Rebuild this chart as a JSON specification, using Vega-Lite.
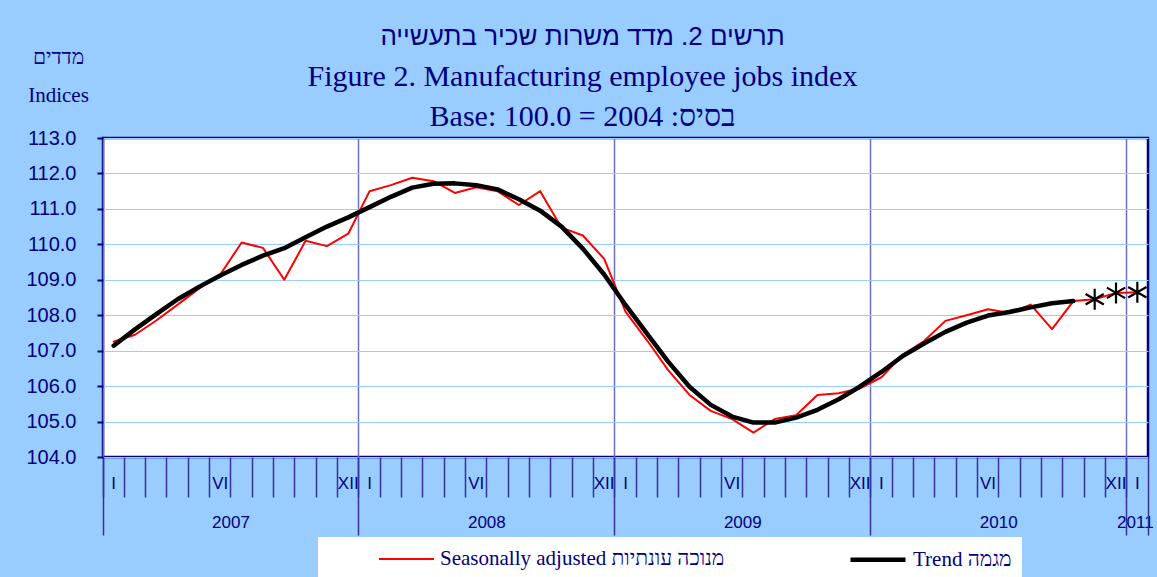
{
  "$schema": "https://vega.github.io/schema/vega-lite/v6.json",
  "width": 1045,
  "height": 319,
  "autosize": {"type": "none"},
  "padding": {"left": 103, "top": 138, "right": 9, "bottom": 120},
  "background": "#99CCFF",
  "title": {
    "text": "תרשים 2. מדד משרות שכיר בתעשייה",
    "subtitle": ["Figure 2. Manufacturing employee jobs index", "Base: 100.0 = 2004 :בסיס"],
    "anchor": "middle",
    "frame": "group",
    "dx": -43,
    "font": "Liberation Sans",
    "fontSize": 26,
    "fontWeight": "normal",
    "color": "#000080",
    "subtitleFont": "Liberation Serif",
    "subtitleFontSize": 30,
    "subtitleColor": "#000080",
    "subtitleLineHeight": 40,
    "subtitlePadding": 12,
    "offset": -86
  },
  "data": {
    "values": [
      {"m": "2007-01", "s": "SA", "v": 107.25},
      {"m": "2007-02", "s": "SA", "v": 107.45},
      {"m": "2007-03", "s": "SA", "v": 107.85},
      {"m": "2007-04", "s": "SA", "v": 108.3},
      {"m": "2007-05", "s": "SA", "v": 108.75},
      {"m": "2007-06", "s": "SA", "v": 109.15},
      {"m": "2007-07", "s": "SA", "v": 110.05},
      {"m": "2007-08", "s": "SA", "v": 109.9},
      {"m": "2007-09", "s": "SA", "v": 109.0},
      {"m": "2007-10", "s": "SA", "v": 110.1},
      {"m": "2007-11", "s": "SA", "v": 109.95},
      {"m": "2007-12", "s": "SA", "v": 110.3},
      {"m": "2008-01", "s": "SA", "v": 111.5},
      {"m": "2008-02", "s": "SA", "v": 111.67},
      {"m": "2008-03", "s": "SA", "v": 111.88},
      {"m": "2008-04", "s": "SA", "v": 111.78},
      {"m": "2008-05", "s": "SA", "v": 111.45},
      {"m": "2008-06", "s": "SA", "v": 111.61},
      {"m": "2008-07", "s": "SA", "v": 111.5},
      {"m": "2008-08", "s": "SA", "v": 111.11},
      {"m": "2008-09", "s": "SA", "v": 111.5},
      {"m": "2008-10", "s": "SA", "v": 110.47},
      {"m": "2008-11", "s": "SA", "v": 110.25},
      {"m": "2008-12", "s": "SA", "v": 109.59},
      {"m": "2009-01", "s": "SA", "v": 108.1},
      {"m": "2009-02", "s": "SA", "v": 107.3},
      {"m": "2009-03", "s": "SA", "v": 106.45},
      {"m": "2009-04", "s": "SA", "v": 105.75},
      {"m": "2009-05", "s": "SA", "v": 105.3},
      {"m": "2009-06", "s": "SA", "v": 105.07},
      {"m": "2009-07", "s": "SA", "v": 104.69},
      {"m": "2009-08", "s": "SA", "v": 105.07},
      {"m": "2009-09", "s": "SA", "v": 105.18},
      {"m": "2009-10", "s": "SA", "v": 105.75},
      {"m": "2009-11", "s": "SA", "v": 105.8},
      {"m": "2009-12", "s": "SA", "v": 105.94},
      {"m": "2010-01", "s": "SA", "v": 106.25},
      {"m": "2010-02", "s": "SA", "v": 106.88},
      {"m": "2010-03", "s": "SA", "v": 107.27},
      {"m": "2010-04", "s": "SA", "v": 107.84},
      {"m": "2010-05", "s": "SA", "v": 108.0},
      {"m": "2010-06", "s": "SA", "v": 108.17},
      {"m": "2010-07", "s": "SA", "v": 108.06},
      {"m": "2010-08", "s": "SA", "v": 108.3},
      {"m": "2010-09", "s": "SA", "v": 107.61},
      {"m": "2010-10", "s": "SA", "v": 108.4},
      {"m": "2010-11", "s": "SA", "v": 108.45, "e": 1},
      {"m": "2010-12", "s": "SA", "v": 108.63, "e": 1},
      {"m": "2011-01", "s": "SA", "v": 108.65, "e": 1},
      {"m": "2007-01", "s": "Trend", "v": 107.14},
      {"m": "2007-02", "s": "Trend", "v": 107.6},
      {"m": "2007-03", "s": "Trend", "v": 108.03},
      {"m": "2007-04", "s": "Trend", "v": 108.45},
      {"m": "2007-05", "s": "Trend", "v": 108.8},
      {"m": "2007-06", "s": "Trend", "v": 109.12},
      {"m": "2007-07", "s": "Trend", "v": 109.42},
      {"m": "2007-08", "s": "Trend", "v": 109.68},
      {"m": "2007-09", "s": "Trend", "v": 109.89},
      {"m": "2007-10", "s": "Trend", "v": 110.2},
      {"m": "2007-11", "s": "Trend", "v": 110.5},
      {"m": "2007-12", "s": "Trend", "v": 110.76},
      {"m": "2008-01", "s": "Trend", "v": 111.05},
      {"m": "2008-02", "s": "Trend", "v": 111.34},
      {"m": "2008-03", "s": "Trend", "v": 111.6},
      {"m": "2008-04", "s": "Trend", "v": 111.71},
      {"m": "2008-05", "s": "Trend", "v": 111.72},
      {"m": "2008-06", "s": "Trend", "v": 111.67},
      {"m": "2008-07", "s": "Trend", "v": 111.55},
      {"m": "2008-08", "s": "Trend", "v": 111.27},
      {"m": "2008-09", "s": "Trend", "v": 110.95},
      {"m": "2008-10", "s": "Trend", "v": 110.5},
      {"m": "2008-11", "s": "Trend", "v": 109.88},
      {"m": "2008-12", "s": "Trend", "v": 109.15},
      {"m": "2009-01", "s": "Trend", "v": 108.29},
      {"m": "2009-02", "s": "Trend", "v": 107.49},
      {"m": "2009-03", "s": "Trend", "v": 106.69},
      {"m": "2009-04", "s": "Trend", "v": 105.98},
      {"m": "2009-05", "s": "Trend", "v": 105.47},
      {"m": "2009-06", "s": "Trend", "v": 105.14},
      {"m": "2009-07", "s": "Trend", "v": 104.97},
      {"m": "2009-08", "s": "Trend", "v": 104.97},
      {"m": "2009-09", "s": "Trend", "v": 105.11},
      {"m": "2009-10", "s": "Trend", "v": 105.33},
      {"m": "2009-11", "s": "Trend", "v": 105.63},
      {"m": "2009-12", "s": "Trend", "v": 105.99},
      {"m": "2010-01", "s": "Trend", "v": 106.4},
      {"m": "2010-02", "s": "Trend", "v": 106.85},
      {"m": "2010-03", "s": "Trend", "v": 107.2},
      {"m": "2010-04", "s": "Trend", "v": 107.53},
      {"m": "2010-05", "s": "Trend", "v": 107.79},
      {"m": "2010-06", "s": "Trend", "v": 107.99},
      {"m": "2010-07", "s": "Trend", "v": 108.09},
      {"m": "2010-08", "s": "Trend", "v": 108.22},
      {"m": "2010-09", "s": "Trend", "v": 108.34},
      {"m": "2010-10", "s": "Trend", "v": 108.4}
    ]
  },
  "layer": [
    {
      "mark": {"type": "line", "strokeJoin": "round", "strokeCap": "round"},
      "encoding": {
        "x": {
          "field": "m", "type": "ordinal", "bandPosition": 0.5,
          "scale": {"type": "band", "paddingInner": 0, "paddingOuter": 0},
          "axis": {
            "orient": "bottom", "title": null, "bandPosition": 0,
            "tickSize": 40, "tickColor": "#333399", "tickWidth": 1.5,
            "domain": false, "grid": false,
            "labelExpr": "substring(datum.value, 5, 7) == '01' ? 'I' : substring(datum.value, 5, 7) == '06' ? 'VI' : substring(datum.value, 5, 7) == '12' ? 'XII' : ''",
            "labelPadding": -14, "labelBaseline": "middle", "labelAngle": 0,
            "labelFont": "Liberation Sans", "labelFontSize": 17, "labelColor": "#000080",
            "labelOverlap": false, "labelFlush": false, "labelBound": false
          }
        },
        "y": {
          "field": "v", "type": "quantitative",
          "scale": {"domain": [104, 113], "nice": false, "zero": false},
          "axis": {
            "values": [104, 105, 106, 107, 108, 109, 110, 111, 112, 113],
            "format": ".1f",
            "title": ["מדדים", "Indices"],
            "titleAngle": 0, "titleX": -45, "titleY": -75, "titleAlign": "center", "titleBaseline": "alphabetic",
            "titleFont": "Liberation Serif", "titleFontSize": 21, "titleFontWeight": "normal", "titleColor": "#000080", "titleLineHeight": 38,
            "labelFont": "Liberation Sans", "labelFontSize": 20, "labelColor": "#000080", "labelPadding": 21,
            "tickSize": 6, "tickColor": "#000080", "tickWidth": 2,
            "domain": false, "grid": true, "gridColor": "#99CCFF", "gridWidth": 1
          }
        },
        "color": {
          "field": "s", "type": "nominal",
          "scale": {"domain": ["SA", "Trend"], "range": ["#FF0000", "#000000"]},
          "legend": {
            "title": " ", "orient": "none", "legendX": 215, "legendY": 399, "direction": "horizontal",
            "symbolType": "M-1,0L4.5,0", "symbolSize": 400, "labelOffset": 40,
            "labelExpr": "datum.value == 'SA' ? 'Seasonally adjusted מנוכה עונתיות' : 'Trend מגמה'"
          }
        },
        "strokeWidth": {
          "field": "s", "type": "nominal",
          "scale": {"type": "ordinal", "domain": ["SA", "Trend"], "range": [2, 4.5]},
          "legend": {
            "title": " ", "orient": "none", "legendX": 215, "legendY": 399, "direction": "horizontal",
            "symbolType": "M-1,0L4.5,0", "symbolSize": 400, "labelOffset": 40,
            "labelExpr": "datum.value == 'SA' ? 'Seasonally adjusted מנוכה עונתיות' : 'Trend מגמה'"
          }
        }
      }
    },
    {
      "mark": {
        "type": "point",
        "shape": "M0,-1L0,1M-0.87,-0.5L0.87,0.5M-0.87,0.5L0.87,-0.5",
        "filled": false, "stroke": "#000000", "strokeWidth": 2.2, "size": 440
      },
      "encoding": {
        "x": {
          "field": "m", "type": "ordinal", "bandPosition": 0.5,
          "axis": {
            "orient": "bottom", "title": null, "bandPosition": 0,
            "values": ["2007-01", "2008-01", "2009-01", "2010-01", "2011-01"],
            "tickSize": 78, "tickColor": "#333399", "tickWidth": 1.5,
            "labels": false, "domain": false,
            "grid": true, "gridColor": "#6E6EC4", "gridWidth": 1.5
          }
        },
        "y": {
          "field": "v", "type": "quantitative",
          "scale": {"domain": [104, 113], "nice": false, "zero": false},
          "axis": {
            "values": [104, 105, 106, 107, 108, 109, 110, 111, 112, 113],
            "format": ".1f",
            "title": ["מדדים", "Indices"],
            "titleAngle": 0, "titleX": -45, "titleY": -75, "titleAlign": "center", "titleBaseline": "alphabetic",
            "titleFont": "Liberation Serif", "titleFontSize": 21, "titleFontWeight": "normal", "titleColor": "#000080", "titleLineHeight": 38,
            "labelFont": "Liberation Sans", "labelFontSize": 20, "labelColor": "#000080", "labelPadding": 21,
            "tickSize": 6, "tickColor": "#000080", "tickWidth": 2,
            "domain": false, "grid": true, "gridColor": "#99CCFF", "gridWidth": 1
          }
        },
        "opacity": {"condition": {"test": "datum.e == 1", "value": 1}, "value": 0}
      }
    },
    {
      "mark": {"type": "point", "opacity": 0},
      "encoding": {
        "x": {
          "field": "m", "type": "ordinal", "bandPosition": 0.5,
          "axis": {
            "orient": "bottom", "title": null, "bandPosition": 0,
            "values": ["2007-07", "2008-07", "2009-07", "2010-07", "2011-01"],
            "ticks": false, "tickSize": 0, "domain": false, "grid": false,
            "labelExpr": "substring(datum.value, 0, 4)",
            "labelOffset": {"condition": {"test": "datum.value == '2011-01'", "value": -2}, "value": -10.67},
            "labelPadding": 65, "labelBaseline": "middle", "labelAngle": 0,
            "labelFont": "Liberation Sans", "labelFontSize": 17, "labelColor": "#000080",
            "labelOverlap": false, "labelFlush": false, "labelBound": false
          }
        }
      }
    },
    {
      "mark": {"type": "point", "opacity": 0},
      "encoding": {
        "x": {
          "field": "m", "type": "ordinal", "bandPosition": 0.5,
          "axis": {
            "orient": "bottom", "title": null, "bandPosition": 1,
            "values": ["2011-01"],
            "tickSize": 78, "tickColor": "#333399", "tickWidth": 1.5,
            "labels": false, "domain": false, "grid": false
          }
        }
      }
    }
  ],
  "resolve": {"axis": {"x": "independent"}},
  "config": {
    "font": "Liberation Sans",
    "view": {"fill": "white", "stroke": "#000080", "strokeWidth": 2.5},
    "legend": {
      "fillColor": "white", "padding": 10,
      "titleOrient": "left", "titlePadding": 50, "titleFontSize": 2,
      "labelFont": "Liberation Serif", "labelFontSize": 21, "labelColor": "#000080",
      "columnPadding": 116, "labelLimit": 500
    }
  }
}
